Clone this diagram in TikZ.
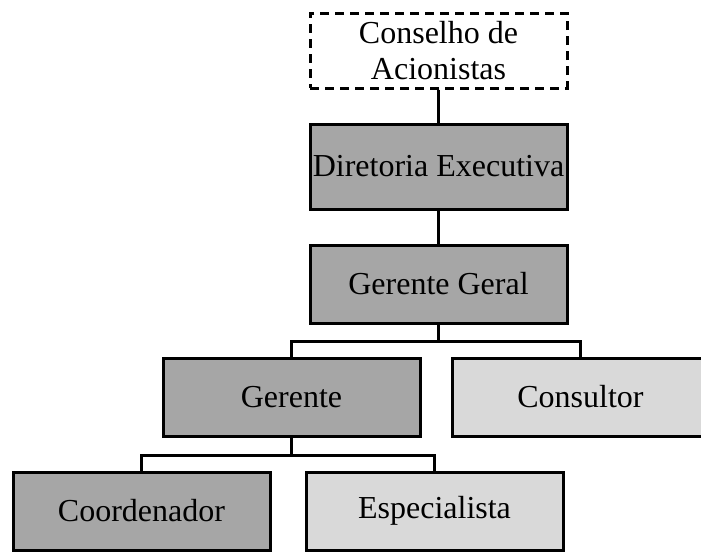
\documentclass[tikz,border=0pt]{standalone}
\usepackage{fontspec}
\setmainfont{Liberation Serif}
\definecolor{darkbox}{RGB}{166,166,166}
\definecolor{lightbox}{RGB}{217,217,217}

\tikzset{
  orgbox/.style={draw, line width=3pt, minimum width=257pt, minimum height=78pt,
    inner sep=0pt, align=center, font=\fontsize{32}{36}\selectfont},
  darkunit/.style={orgbox, fill=darkbox},
  lightunit/.style={orgbox, fill=lightbox},
  link/.style={line width=3pt}
}

\begin{document}
\begin{tikzpicture}[x=1pt, y=-1pt]
        \useasboundingbox (0,0) rectangle (701,552);
        \node[orgbox, dash pattern=on 9pt off 6pt, minimum height=75pt] (conselho) at (438.5,50.5) {Conselho de\\Acionistas};
        \node[darkunit, minimum height=85pt] (diretoria) at (438.5,166.5) {Diretoria Executiva};
        \node[darkunit] (geral) at (438.5,284) {Gerente Geral};
        \node[darkunit] (gerente) at (291.5,397) {Gerente};
        \node[lightunit] (consultor) at (580.5,397) {Consultor};
        \node[darkunit] (coord) at (141.5,511) {Coordenador};
        \node[lightunit] (espec) at (434.5,511) {Especialista};
        \draw[link] (conselho) -- (diretoria);
        \draw[link] (diretoria) -- (geral);
        \draw[link] (geral.south) -- ++(0,17) -| (gerente.north);
        \draw[link] (geral.south) -- ++(0,17) -| (consultor.north);
        \draw[link] (gerente.south) -- ++(0,18) -| (coord.north);
        \draw[link] (gerente.south) -- ++(0,18) -| (espec.north);
    \end{tikzpicture}
\end{document}
